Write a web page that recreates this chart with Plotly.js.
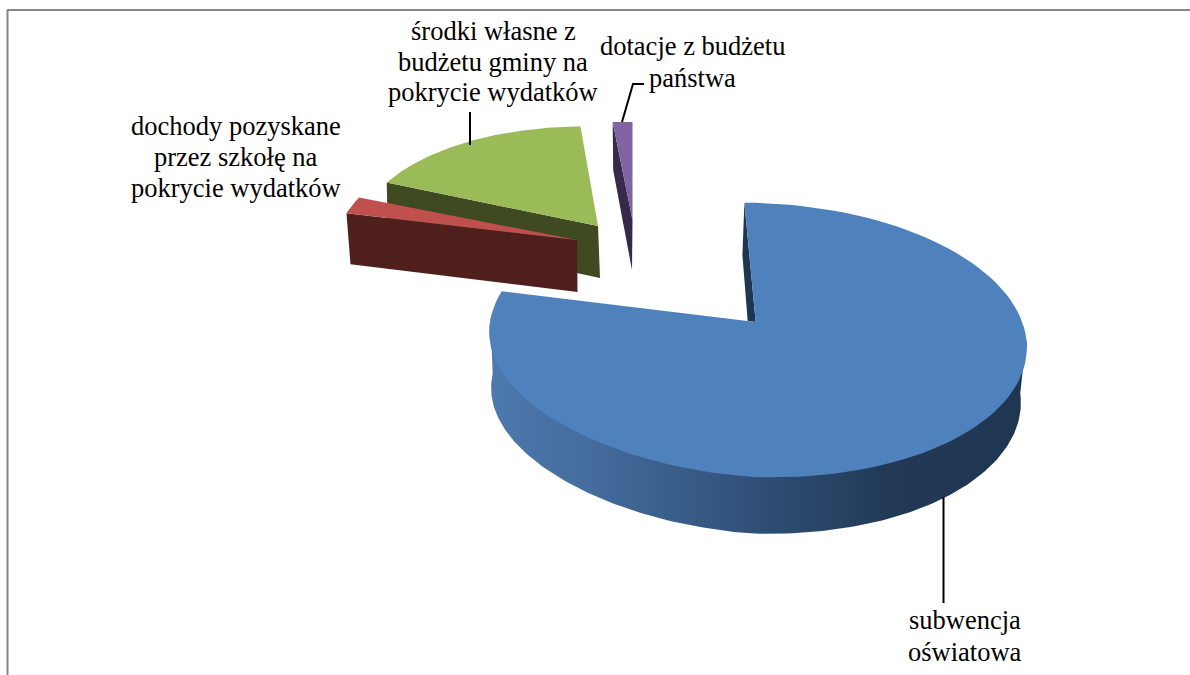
<!DOCTYPE html>
<html><head><meta charset="utf-8">
<script src="https://cdn.plot.ly/plotly-3.0.1.min.js"></script>
<style>html,body{margin:0;padding:0;background:#fff}#c{width:1190px;height:675px}</style>
</head><body><div id="c"></div>
<script>
// Data: share of each slice, in percent
const categories = ['subwencja oświatowa','dochody pozyskane przez szkołę na pokrycie wydatków','środki własne z budżetu gminy na pokrycie wydatków','dotacje z budżetu państwa'];
const values = [80.7, 2.2, 15.9, 1.2];
const labelLines = [['subwencja','oświatowa'],['dochody pozyskane','przez szkołę na','pokrycie wydatków'],['środki własne z','budżetu gminy na','pokrycie wydatków'],['dotacje z budżetu','państwa']];

// Styling / projection of the exploded 3D pie
const topColors = ['#4f81bd','#c0504d','#9bbb59','#8064a2'];
const sideColors = ['#1f3651','#4f1f1e','#3f4a22','#362a4a'];
const geom = [
  {ax:755.7,ay:322,turn:-4,   sx:1,    sy:1,    dA:[-2,52],dL:[-2,52],pull:4},
  {ax:577,  ay:240,turn:-73.2,sx:0.91, sy:0.91, dA:[0.5,52],dL:[4,51],pull:0},
  {ax:598,  ay:226,turn:-63,  sx:0.9,  sy:0.857,dA:[2,52],dL:[1,50],pull:0},
  {ax:632.5,ay:220,turn:-5.78,sx:0.977,sy:0.845,dA:[-0.5,50],dL:[0.5,48],pull:0}
];
const RX=269, RY=137, OFFX=2.3, OFFY=18, TILT=0.0377;
const labelPos = [[[964.5,620],[964.5,652]],[[236,126],[236,157],[236,188]],[[493,31],[493,62],[493,92]],[[692,46],[692,78]]];
const leaders = [[[943.5,943.5],[497,603]],[[470,470],[112,145]],[[622,633,644],[122,84,84]]];

const total = values.reduce((a,b)=>a+b,0);
const rad = d=>d*Math.PI/180;
function tilt(u,v){return [u*Math.cos(TILT)-v*Math.sin(TILT), u*Math.sin(TILT)+v*Math.cos(TILT)];}
// perspective pulls the near-left part of the rim slightly inwards
function pullAt(amount,deg){const a=((deg%360)+360)%360;return (a>180&&a<270)?amount*Math.sin(rad(2*(a-180))):0;}
function rim(g,deg){const t=tilt(g.sx*RX*Math.sin(rad(deg)),-g.sy*RY*Math.cos(rad(deg)));return [g.ax+OFFX+t[0], g.ay+OFFY+t[1]-pullAt(g.pull,deg)];}
function poly(pts,color,extra){return Object.assign({type:'scatter',mode:'lines',x:pts.map(p=>p[0]),y:pts.map(p=>p[1]),fill:'toself',fillcolor:color,line:{width:0,color:color},hoverinfo:'skip',showlegend:false},extra||{});}
const spans = values.map(v=>v/total*360);
function topFace(i){const g=geom[i],s=spans[i],p=[[g.ax,g.ay]];for(let k=0;k<=120;k++)p.push(rim(g,g.turn+s*k/120));p.push([g.ax,g.ay]);return poly(p,topColors[i]);}
function cutFace(i){const g=geom[i],L=rim(g,g.turn);return poly([L,[g.ax,g.ay],[g.ax+g.dA[0],g.ay+g.dA[1]],[L[0]+g.dL[0],L[1]+g.dL[1]],L],sideColors[i]);}

const traces=[];
// blue slice: outer wall with shading, then the sliver of inner wall in the notch
(function(){
  const g=geom[0],top=[],bot=[];
  const cxB=756, cyB=395.5, rxB=265, ryB=138;
  const cx=g.ax+OFFX, cy=g.ay+OFFY;
  for(let d=85;d<=275;d+=1){
    const r=rim(g,d);
    // the inner arc of the wall runs under the top face, so no seam shows
    top.push((d>=90&&d<=270)?[cx+(r[0]-cx)*0.97,cy+(r[1]-cy)*0.97]:r);
    const t=tilt(rxB*Math.sin(rad(d)),-ryB*Math.cos(rad(d)));
    bot.push([cxB+t[0],cyB+t[1]-pullAt(5,d)]);
  }
  const pts=top.concat(bot.reverse());pts.push(top[0]);
  traces.push(poly(pts,'#2e4d73',{fillgradient:{type:'horizontal',start:490,stop:1027,colorscale:[[0,'#4d79ae'],[0.22,'#42699a'],[0.5,'#2f4f76'],[0.75,'#213956'],[1,'#1f3651']]}}));
  const S=rim(g,g.turn);
  traces.push(poly([S,[S[0]+g.dL[0],S[1]+g.dL[1]],[g.ax-8,g.ay-1],[g.ax,g.ay],S],sideColors[0]));
  traces.push(topFace(0));
})();
// purple, green, red: inner cut face (at slice start edge) then top face
traces.push(cutFace(3),topFace(3));
traces.push(cutFace(2),topFace(2));
traces.push(cutFace(1),topFace(1));
// leader lines
leaders.forEach(l=>traces.push({type:'scatter',mode:'lines',x:l[0],y:l[1],line:{color:'#000',width:2},hoverinfo:'skip',showlegend:false}));

const annotations=[];
labelLines.forEach((lines,i)=>lines.forEach((t,j)=>annotations.push({x:labelPos[i][j][0],y:labelPos[i][j][1],xref:'x',yref:'y',text:t,showarrow:false,xanchor:'center',yanchor:'middle',font:{family:'"Liberation Serif",serif',size:26.5,color:'#000'}})));

const layout={width:1190,height:675,margin:{l:0,r:0,t:0,b:0},paper_bgcolor:'#fff',plot_bgcolor:'#fff',showlegend:false,
  xaxis:{range:[0,1190],visible:false,fixedrange:true},
  yaxis:{range:[675,0],visible:false,fixedrange:true},
  annotations,
  shapes:[{type:'line',x0:7.5,x1:7.5,y0:10,y1:675,line:{color:'#868686',width:2}},{type:'line',x0:7,x1:1190,y0:10,y1:10,line:{color:'#868686',width:2}}]
};
Plotly.newPlot('c',traces,layout,{displayModeBar:false,staticPlot:true});
</script></body></html>
